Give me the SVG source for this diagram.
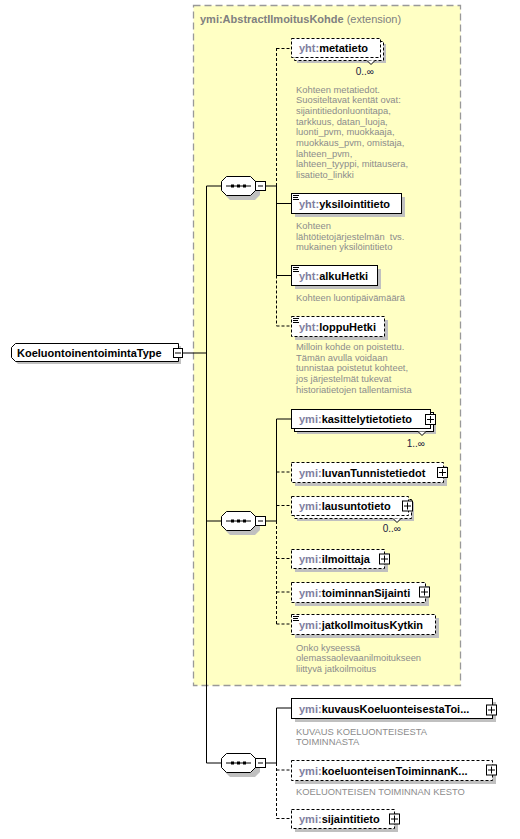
<svg xmlns="http://www.w3.org/2000/svg" width="520" height="839" viewBox="0 0 520 839">
<defs>
<style>
.ext{fill:#FFFFC4;stroke:#999;stroke-width:1.3;stroke-dasharray:7,4}
.sh{fill:#C0C0C0}
.box{fill:#fff;stroke:#000;stroke-width:1}
.dbox{fill:#fff;stroke:#000;stroke-width:1;stroke-dasharray:3,2}
.ln{fill:none;stroke:#000;stroke-width:1}
.dl{fill:none;stroke:#000;stroke-width:1;stroke-dasharray:3,2}
.lbl{font-family:"Liberation Sans",Arial,sans-serif;font-size:11px;font-weight:bold;fill:#000}
.pf{fill:#80809F}
.desc{font-family:"Liberation Sans",Arial,sans-serif;font-size:9.4px;fill:#8C8C8C;white-space:pre}
.mult{font-family:"Liberation Sans",Arial,sans-serif;font-size:10px;fill:#202040;text-anchor:end}
.ttl{font-family:"Liberation Sans",Arial,sans-serif;font-size:11px;fill:#808080}
.ico{fill:none;stroke:#000;stroke-width:1}
.pm{fill:#fff;stroke:#000;stroke-width:1}
.dot{fill:#000}
</style>
</defs>

<g id="extension">
<rect class="ext" x="193.5" y="5.5" width="267" height="680"/>
<text class="ttl" x="200" y="23"><tspan font-weight="bold">ymi:AbstractIlmoitusKohde</tspan> (extension)</text>
</g>

<g id="connectors">
<path class="ln" d="M183 353H206.5M206.5 186V763M206.5 186H221M206.5 521H221M206.5 763H221"/>
<path class="ln" d="M266 186H276.5M276.5 186V275.5M276.5 203.5H291M276.5 275.5H291"/>
<path class="dl" d="M276.5 48V186M276.5 48.5H291M276.5 275.5V326M276.5 326H291"/>
<path class="ln" d="M266 521H276.5M276.5 419V521M276.5 419H291"/>
<path class="dl" d="M276.5 521V624M276.5 472H291M276.5 505.5H291M276.5 558.5H291M276.5 592H291M276.5 624H291"/>
<path class="ln" d="M266 763H276.5M276.5 708V763M276.5 708H291"/>
<path class="dl" d="M276.5 763V818.5M276.5 770H291M276.5 818.5H291"/>
</g>

<g id="root">
<path class="sh" d="M18 346H181V364H18L14 360V350Z"/>
<path class="box" d="M15.5 343.5H178.5V361.5H15.5L11.5 357.5V347.5Z"/>
<text class="lbl" x="17" y="357">KoeluontoinentoimintaType</text>
<rect class="pm" x="173.5" y="348.5" width="9" height="9"/>
<path class="ln" d="M175 353H181"/>
</g>

<g id="seq1">
<path class="sh" d="M230 180H255L260 185V195L255 200H230L225 195V185Z"/>
<path class="box" d="M226.5 176.5H250.5L255.5 181.5V190.5L250.5 195.5H226.5L221.5 190.5V181.5Z"/>
<path class="ln" d="M226 186H251"/>
<rect class="dot" x="231" y="184.5" width="3" height="3"/><rect class="dot" x="237" y="184.5" width="3" height="3"/><rect class="dot" x="243" y="184.5" width="3" height="3"/>
<rect class="pm" x="255.5" y="181.5" width="10" height="9"/>
<path class="ln" d="M258 186H263"/>
</g>

<g id="seq2">
<path class="sh" d="M230 515H255L260 520V530L255 535H230L225 530V520Z"/>
<path class="box" d="M226.5 511.5H250.5L255.5 516.5V525.5L250.5 530.5H226.5L221.5 525.5V516.5Z"/>
<path class="ln" d="M226 521H251"/>
<rect class="dot" x="231" y="519.5" width="3" height="3"/><rect class="dot" x="237" y="519.5" width="3" height="3"/><rect class="dot" x="243" y="519.5" width="3" height="3"/>
<rect class="pm" x="255.5" y="516.5" width="10" height="9"/>
<path class="ln" d="M258 521H263"/>
</g>

<g id="seq3">
<path class="sh" d="M230 757H255L260 762V772L255 777H230L225 772V762Z"/>
<path class="box" d="M226.5 753.5H250.5L255.5 758.5V767.5L250.5 772.5H226.5L221.5 767.5V758.5Z"/>
<path class="ln" d="M226 763H251"/>
<rect class="dot" x="231" y="761.5" width="3" height="3"/><rect class="dot" x="237" y="761.5" width="3" height="3"/><rect class="dot" x="243" y="761.5" width="3" height="3"/>
<rect class="pm" x="255.5" y="758.5" width="10" height="9"/>
<path class="ln" d="M258 763H263"/>
</g>

<g id="metatieto">
<rect class="sh" x="297" y="44" width="89" height="19"/>
<rect class="dbox" x="294.5" y="41.5" width="89" height="19"/>
<rect class="dbox" x="291.5" y="38.5" width="89" height="19"/>
<path class="box" d="M367 60.5L371 64.5L375 60.5"/>
<text class="lbl" x="299" y="52"><tspan class="pf">yht:</tspan>metatieto</text>
<text class="mult" x="374" y="75">0..∞</text>
<text class="desc" x="296"><tspan x="296" y="92.5">Kohteen metatiedot.</tspan><tspan x="296" y="103.2">Suositeltavat kentät ovat:</tspan><tspan x="296" y="113.9">sijaintitiedonluontitapa,</tspan><tspan x="296" y="124.6">tarkkuus, datan_luoja,</tspan><tspan x="296" y="135.3">luonti_pvm, muokkaaja,</tspan><tspan x="296" y="146">muokkaus_pvm, omistaja,</tspan><tspan x="296" y="156.7">lahteen_pvm,</tspan><tspan x="296" y="167.4">lahteen_tyyppi, mittausera,</tspan><tspan x="296" y="178.1">lisatieto_linkki</tspan></text>
</g>

<g id="yksilointitieto">
<rect class="sh" x="295" y="197" width="110" height="20"/>
<rect class="box" x="291.5" y="193.5" width="110" height="20"/>
<path class="ico" d="M293 195.5h6M293 197.5h5M293 199.5h6"/>
<text class="lbl" x="299" y="207.5"><tspan class="pf">yht:</tspan>yksilointitieto</text>
<text class="desc"><tspan x="296" y="229">Kohteen</tspan><tspan x="296" y="239.7">lähtötietojärjestelmän  tvs.</tspan><tspan x="296" y="250.4">mukainen yksilöintitieto</tspan></text>
</g>

<g id="alkuHetki">
<rect class="sh" x="295" y="269" width="86" height="20"/>
<rect class="box" x="291.5" y="265.5" width="86" height="20"/>
<path class="ico" d="M293 267.5h6M293 269.5h5M293 271.5h6"/>
<text class="lbl" x="299" y="279.5"><tspan class="pf">yht:</tspan>alkuHetki</text>
<text class="desc" x="296" y="301">Kohteen luontipäivämäärä</text>
</g>

<g id="loppuHetki">
<rect class="sh" x="295" y="320" width="93" height="20"/>
<rect class="dbox" x="291.5" y="316.5" width="93" height="20"/>
<path class="ico" d="M293 318.5h6M293 320.5h5M293 322.5h6"/>
<text class="lbl" x="299" y="330.5"><tspan class="pf">yht:</tspan>loppuHetki</text>
<text class="desc"><tspan x="296" y="350">Milloin kohde on poistettu.</tspan><tspan x="296" y="360.7">Tämän avulla voidaan</tspan><tspan x="296" y="371.4">tunnistaa poistetut kohteet,</tspan><tspan x="296" y="382.1">jos järjestelmät tukevat</tspan><tspan x="296" y="392.8">historiatietojen tallentamista</tspan></text>
</g>

<g id="kasittelytietotieto">
<rect class="sh" x="297" y="415" width="139" height="19"/>
<rect class="box" x="294.5" y="412.5" width="139" height="19"/>
<rect class="box" x="291.5" y="409.5" width="139" height="19"/>
<path class="box" d="M418 431.5L422 435.5L426 431.5"/>
<rect class="pm" x="425.5" y="414.5" width="10" height="10"/>
<path class="ln" d="M427 419.5H434M430.5 416V423"/>
<text class="lbl" x="299" y="423"><tspan class="pf">ymi:</tspan>kasittelytietotieto</text>
<text class="mult" x="425" y="447">1..∞</text>
</g>

<g id="luvanTunnistetiedot">
<rect class="sh" x="295" y="466" width="152" height="20"/>
<rect class="dbox" x="291.5" y="462.5" width="152" height="20"/>
<rect class="pm" x="437.5" y="467.5" width="10" height="10"/>
<path class="ln" d="M439 472.5H446M442.5 469V476"/>
<text class="lbl" x="299" y="476.5"><tspan class="pf">ymi:</tspan>luvanTunnistetiedot</text>
</g>

<g id="lausuntotieto">
<rect class="sh" x="297" y="502" width="117" height="19"/>
<rect class="dbox" x="294.5" y="499.5" width="117" height="19"/>
<rect class="dbox" x="291.5" y="496.5" width="117" height="19"/>
<path class="box" d="M393 518.5L397 522.5L401 518.5"/>
<rect class="pm" x="402.5" y="501" width="10" height="10"/>
<path class="ln" d="M404 506H411M407.5 502.5V509.5"/>
<text class="lbl" x="299" y="510"><tspan class="pf">ymi:</tspan>lausuntotieto</text>
<text class="mult" x="401" y="532">0..∞</text>
</g>

<g id="ilmoittaja">
<rect class="sh" x="295" y="553" width="93" height="19"/>
<rect class="dbox" x="291.5" y="549.5" width="93" height="19"/>
<rect class="pm" x="379.5" y="554" width="10" height="10"/>
<path class="ln" d="M381 559H388M384.5 555.5V562.5"/>
<text class="lbl" x="299" y="563"><tspan class="pf">ymi:</tspan>ilmoittaja</text>
</g>

<g id="toiminnanSijainti">
<rect class="sh" x="295" y="586" width="134" height="20"/>
<rect class="dbox" x="291.5" y="582.5" width="134" height="20"/>
<rect class="pm" x="419.5" y="587" width="10" height="10"/>
<path class="ln" d="M421 592H428M424.5 588.5V595.5"/>
<text class="lbl" x="299" y="596.5"><tspan class="pf">ymi:</tspan>toiminnanSijainti</text>
</g>

<g id="jatkoIlmoitusKytkin">
<rect class="sh" x="295" y="618" width="144" height="20"/>
<rect class="dbox" x="291.5" y="614.5" width="144" height="20"/>
<path class="ico" d="M293 616.5h6M293 618.5h5M293 620.5h6"/>
<text class="lbl" x="299" y="628.5"><tspan class="pf">ymi:</tspan>jatkoIlmoitusKytkin</text>
<text class="desc"><tspan x="296" y="650.5">Onko kyseessä</tspan><tspan x="296" y="661">olemassaolevaanilmoitukseen</tspan><tspan x="296" y="671.7">liittyvä jatkoilmoitus</tspan></text>
</g>

<g id="kuvausKoeluonteisestaToiminnasta">
<rect class="sh" x="295" y="702" width="201" height="20"/>
<rect class="box" x="291.5" y="698.5" width="201" height="20"/>
<rect class="pm" x="486.5" y="705" width="10" height="10"/>
<path class="ln" d="M488 710H495M491.5 706.5V713.5"/>
<text class="lbl" x="299" y="712.5"><tspan class="pf">ymi:</tspan>kuvausKoeluonteisestaToi...</text>
<text class="desc"><tspan x="296" y="734.5">KUVAUS KOELUONTEISESTA</tspan><tspan x="296" y="745.2">TOIMINNASTA</tspan></text>
</g>

<g id="koeluonteisenToiminnanKesto">
<rect class="sh" x="295" y="764" width="201" height="20"/>
<rect class="dbox" x="291.5" y="760.5" width="201" height="20"/>
<rect class="pm" x="486.5" y="765" width="10" height="10"/>
<path class="ln" d="M488 770H495M491.5 766.5V773.5"/>
<text class="lbl" x="299" y="774.5"><tspan class="pf">ymi:</tspan>koeluonteisenToiminnanK...</text>
<text class="desc" x="296" y="794.5">KOELUONTEISEN TOIMINNAN KESTO</text>
</g>

<g id="sijaintitieto">
<rect class="sh" x="295" y="813" width="103" height="19"/>
<rect class="dbox" x="291.5" y="809.5" width="103" height="19"/>
<rect class="pm" x="389.5" y="814" width="10" height="10"/>
<path class="ln" d="M391 819H398M394.5 815.5V822.5"/>
<text class="lbl" x="299" y="823"><tspan class="pf">ymi:</tspan>sijaintitieto</text>
</g>
</svg>
